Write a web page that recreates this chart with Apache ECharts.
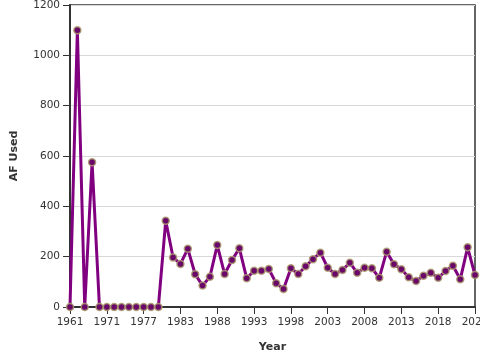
<!DOCTYPE html>
<html>
<head>
<meta charset="utf-8">
<script src="https://cdn.jsdelivr.net/npm/echarts@6/dist/echarts.min.js"></script>
<style>html,body{margin:0;padding:0;background:#fff}#c{width:480px;height:360px}</style>
</head>
<body>
<div id="c"></div>
<script>
const years = ['1961','1963','1965','1967','1969','1971','1972','1973','1974','1975','1977','1978','1979','1980','1981',
'1983','1984','1985','1986','1987','1988','1989','1990','1991','1992','1993','1994','1995','1996','1997','1998','1999','2000',
'2001','2002','2003','2004','2005','2006','2007','2008','2009','2010','2011','2012','2013','2014','2015','2016','2017','2018',
'2019','2020','2021','2022','2023'];
const afUsed = [0,1100,0,575,0,0,0,0,0,0,0,0,0,343,197,
171,231,130,85,120,246,131,187,233,114,144,144,151,94,72,154,131,162,190,216,156,131,147,176,136,156,154,116,220,170,150,118,103,124,136,116,143,164,110,237,127];
const yTicks = {min:0, max:1200, interval:200};

const chart = echarts.init(document.getElementById('c'));
const font = 'DejaVu Sans';
chart.setOption({
  animation:false,
  grid:{left:70,right:5,top:5,bottom:53,show:true,borderColor:'#333',borderWidth:1.5,containLabel:false,outerBoundsMode:'none'},
  xAxis:{type:'category',data:years,boundaryGap:false,name:'Year',nameLocation:'middle',nameGap:35,
    nameTextStyle:{fontFamily:font,fontSize:11,fontWeight:'bold',color:'#333'},
    axisLine:{lineStyle:{color:'#333',width:2}},
    axisTick:{show:true,interval:4,length:7,lineStyle:{color:'#333'}},
    axisLabel:{interval:4,margin:10,fontFamily:font,fontSize:10.5,color:'#333',hideOverlap:false},
    splitLine:{show:false}},
  yAxis:{type:'value',min:yTicks.min,max:yTicks.max,interval:yTicks.interval,name:'AF Used',nameLocation:'middle',nameGap:50,
    nameTextStyle:{fontFamily:font,fontSize:11,fontWeight:'bold',color:'#333'},
    axisLine:{show:true,lineStyle:{color:'#333',width:2}},
    axisTick:{show:true,length:7,lineStyle:{color:'#333'}},
    axisLabel:{margin:10,fontFamily:font,fontSize:10.5,color:'#333',formatter:v=>String(v)},
    splitLine:{lineStyle:{color:'#d8d8d8'}}},
  series:[{type:'line',data:afUsed,symbol:'circle',symbolSize:7,showAllSymbol:true,
    lineStyle:{color:'#800080',width:3},
    itemStyle:{color:'#6a086a',borderColor:'rgba(170,155,110,0.85)',borderWidth:1.5}}]
});
</script>
</body>
</html>
